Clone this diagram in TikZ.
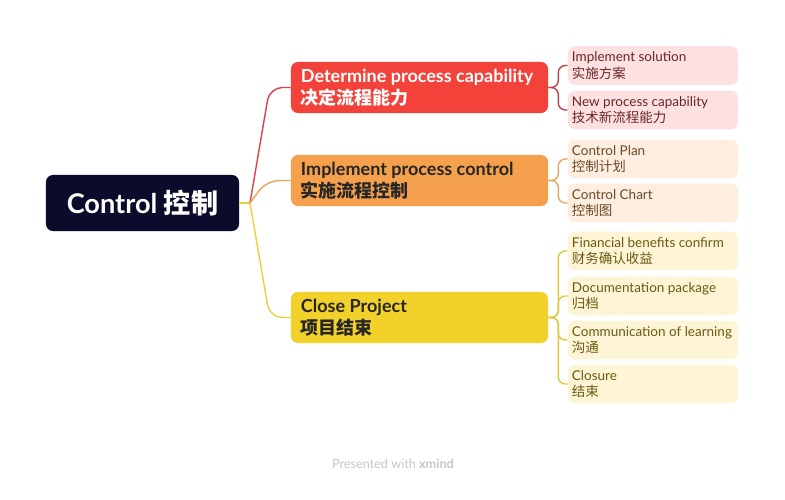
\documentclass[tikz,border=0pt]{standalone}
\usepackage{fontspec}
\setmainfont{Lato}
\newfontfamily\cjk{Noto Sans CJK SC}
\usetikzlibrary{calc}
\definecolor{rootfill}{HTML}{0B0B2B}
\definecolor{redfill}{HTML}{F3423A}
\definecolor{orangefill}{HTML}{F5A04C}
\definecolor{yellowfill}{HTML}{F2D12A}
\definecolor{redlight}{HTML}{FDE1E1}
\definecolor{orangelight}{HTML}{FDEEE0}
\definecolor{yellowlight}{HTML}{FDF5D6}
\definecolor{redtext}{HTML}{6B2626}
\definecolor{orangetext}{HTML}{6B4A26}
\definecolor{yellowtext}{HTML}{6B5A10}
\definecolor{redline}{HTML}{D9434D}
\definecolor{orangeline}{HTML}{EBA35A}
\definecolor{yellowline}{HTML}{E8D23A}
\definecolor{redbracket}{HTML}{C0444A}
\definecolor{orangebracket}{HTML}{E0A860}
\definecolor{yellowbracket}{HTML}{E0C840}
\newcommand{\zh}[1]{{\cjk #1}}
\tikzset{
  rootbox/.style={fill=rootfill, text=white, rounded corners=5pt,
    minimum width=4.825cm, minimum height=1.4cm, inner sep=0pt,
    font=\fontsize{19.3}{22}\selectfont\bfseries},
  mainbox/.style={rounded corners=5pt, minimum height=1.275cm,
    text width=5.925cm, inner xsep=0.25cm, inner ysep=0pt, align=flush left,
    font=\fontsize{12.8}{15.8}\selectfont\bfseries},
  subbox/.style={rounded corners=5pt, minimum height=0.9625cm,
    text width=4.05cm, inner xsep=0.1cm, inner ysep=0pt, align=flush left,
    font=\fontsize{9.6}{11.8}\selectfont},
  branch/.style={line width=1pt, rounded corners=9pt},
  bracket/.style={line width=1pt, rounded corners=5pt}
}
\begin{document}
\begin{tikzpicture}[x=0.025cm, y=-0.025cm]
  \useasboundingbox[fill=white] (0,0) rectangle (785,500);
  % root and main topics
  \node[rootbox] (root) at (142.5,203) {Control \zh{控制}};
  \node[mainbox, fill=redfill, text=white] (m1) at (419.5,87.5)
    {Determine process capability\\\zh{决定流程能力}};
  \node[mainbox, fill=orangefill, text=black!85] (m2) at (419.5,180.5)
    {Implement process control\\\zh{实施流程控制}};
  \node[mainbox, fill=yellowfill, text=black!85] (m3) at (419.5,317.5)
    {Close Project\\\zh{项目结束}};
  % subtopics
  \node[subbox, fill=redlight, text=redtext] (s1) at (653,65.5)
    {Implement solution\\\zh{实施方案}};
  \node[subbox, fill=redlight, text=redtext] (s2) at (653,110)
    {New process capability\\\zh{技术新流程能力}};
  \node[subbox, fill=orangelight, text=orangetext] (s3) at (653,159)
    {Control Plan\\\zh{控制计划}};
  \node[subbox, fill=orangelight, text=orangetext] (s4) at (653,203)
    {Control Chart\\\zh{控制图}};
  \node[subbox, fill=yellowlight, text=yellowtext] (s5) at (653,251)
    {Financial benefits confirm\\\zh{财务确认收益}};
  \node[subbox, fill=yellowlight, text=yellowtext] (s6) at (653,296)
    {Documentation package\\\zh{归档}};
  \node[subbox, fill=yellowlight, text=yellowtext] (s7) at (653,340)
    {Communication of learning\\\zh{沟通}};
  \node[subbox, fill=yellowlight, text=yellowtext] (s8) at (653,384)
    {Closure\\\zh{结束}};
  \node[text=black!22, font=\fontsize{9}{11}\selectfont] (credit) at (393,464)
    {Presented with \textbf{xmind}};
  % branches from the root
  \coordinate (rj) at (250,203);
  \draw[branch, yellowline] (root.east) -- (rj);
  \draw[branch, redline] (rj) -- ($(m1.west)+(-21,0)$) -- (m1.west);
  \draw[branch, orangeline] (rj) -- ($(m2.west)+(-24,0)$) -- (m2.west);
  \draw[branch, yellowline] (rj) -- ($(m3.west)+(-21,0)$) -- (m3.west);
  % brackets to the subtopics
  \foreach \s in {s1,s2}
    \draw[bracket, redbracket] (m1.east) -- ++(10,0) |- (\s.west);
  \foreach \s in {s3,s4}
    \draw[bracket, orangebracket] (m2.east) -- ++(10,0) |- (\s.west);
  \foreach \s in {s5,s6,s7,s8}
    \draw[bracket, yellowbracket] (m3.east) -- ++(10,0) |- (\s.west);
\end{tikzpicture}
\end{document}
